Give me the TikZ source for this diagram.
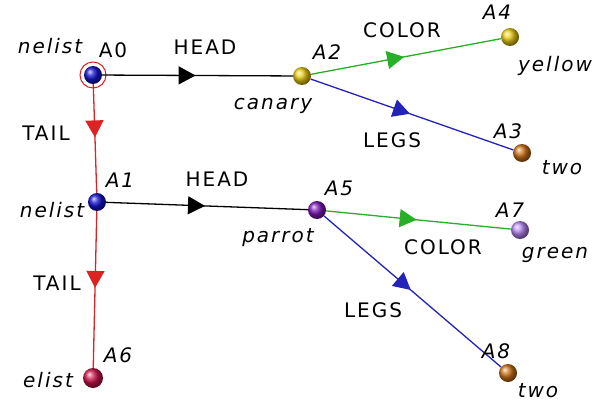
\documentclass[tikz,border=0pt]{standalone}
\usepackage{fontspec}
\setmainfont{DejaVu Sans}
\newfontfamily\spacedfont[LetterSpace=10]{DejaVu Sans}
\usetikzlibrary{decorations.markings,arrows.meta}
\definecolor{cblue}{RGB}{20,20,210}
\definecolor{cyel}{RGB}{235,205,20}
\definecolor{corange}{RGB}{205,115,25}
\definecolor{cpurple}{RGB}{125,25,185}
\definecolor{clilac}{RGB}{185,135,245}
\definecolor{ccrimson}{RGB}{205,20,75}
\definecolor{ered}{RGB}{220,35,35}
\definecolor{egreen}{RGB}{40,175,40}
\definecolor{eblue}{RGB}{35,35,185}
\tikzset{
  ball/.style={circle, inner sep=0pt, minimum size=18pt, shading=ball, ball color=#1},
  edge/.style={line width=1.3pt, draw=#1, postaction={decorate},
    decoration={markings, mark=at position 0.49 with {\arrow[#1]{Triangle[length=17pt,width=18pt]}}}},
  uplbl/.style={font=\spacedfont\fontsize{20}{22}\selectfont, inner sep=0pt},
  itl/.style={font=\spacedfont\fontsize{20}{22}\selectfont\itshape, inner sep=0pt}
}
\begin{document}
\begin{tikzpicture}[x=1pt,y=-1pt]
\useasboundingbox (0,0) rectangle (597,404);
% nodes
\node[ball=cblue] (A0) at (93,75) {};
\node[ball=cblue] (A1) at (97,202) {};
\node[ball=cyel] (A2) at (302,76) {};
\node[ball=cyel] (A4) at (510,37) {};
\node[ball=corange] (A3) at (522,153) {};
\node[ball=cpurple] (A5) at (317,210) {};
\node[ball=clilac] (A7) at (520,230) {};
\node[ball=ccrimson, minimum size=20pt] (A6) at (93,378) {};
\node[ball=corange] (A8) at (508,373) {};
\draw[ered, line width=1pt] (A0.center) circle (13);
% edges
\draw[edge=black] (A0) -- (A2);
\draw[edge=black] (A1) -- (A5);
\draw[edge=ered] (A0) -- (A1);
\draw[edge=ered] (A1) -- (A6);
\draw[edge=egreen] (A2) -- (A4);
\draw[edge=eblue] (A2) -- (A3);
\draw[edge=egreen] (A5) -- (A7);
\draw[edge=eblue] (A5) -- (A8);
% labels
\node[itl] (l0) at (50,46) {nelist};
\node[uplbl] (n0) at (113,50) {A0};
\node[uplbl] (h1) at (205,47) {HEAD};
\node[itl] (l2) at (273,106) {canary};
\node[itl] (n2) at (327,52) {A2};
\node[uplbl] (c1) at (402,30) {COLOR};
\node[itl] (n4) at (497,12) {A4};
\node[itl] (l4) at (555,66) {yellow};
\node[uplbl] (g1) at (392,140) {LEGS};
\node[itl] (n3) at (508,131) {A3};
\node[itl] (l3) at (562,168) {two};
\node[uplbl] (t1) at (46,133) {TAIL};
\node[itl] (n1) at (120,180) {A1};
\node[itl] (l1) at (52,210) {nelist};
\node[uplbl] (h2) at (217,179) {HEAD};
\node[itl] (n5) at (339,188) {A5};
\node[itl] (l5) at (278,238) {parrot};
\node[itl] (n7) at (510,210) {A7};
\node[itl] (l7) at (555,255) {green};
\node[uplbl] (c2) at (443,247) {COLOR};
\node[uplbl] (g2) at (373,310) {LEGS};
\node[uplbl] (t2) at (57,283) {TAIL};
\node[itl] (n6) at (118,355) {A6};
\node[itl] (l6) at (48,380) {elist};
\node[itl] (n8) at (496,351) {A8};
\node[itl] (l8) at (538,391) {two};
\end{tikzpicture}
\end{document}
